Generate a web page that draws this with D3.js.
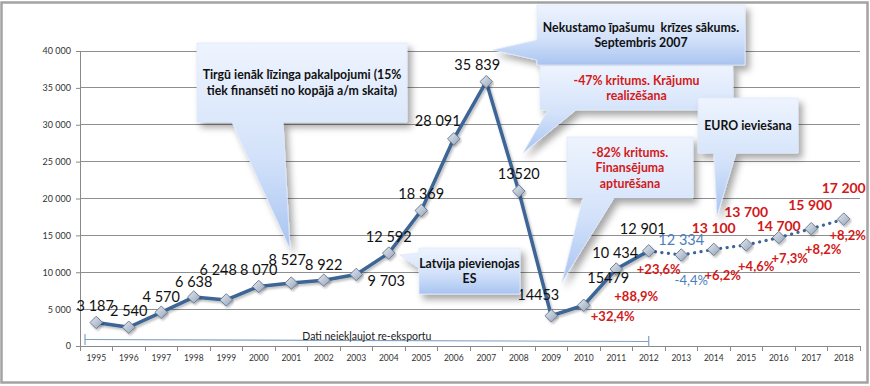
<!DOCTYPE html>
<html><head><meta charset="utf-8">
<script src="https://cdn.jsdelivr.net/npm/d3@7/dist/d3.min.js"></script>
<style>html,body{margin:0;padding:0;background:#fff;}svg{display:block;}</style>
</head><body><svg id="c" width="870" height="386"></svg>
<script>
// ---- data ----
const years = ["1995","1996","1997","1998","1999","2000","2001","2002","2003","2004","2005","2006","2007","2008","2009","2010","2011","2012","2013","2014","2015","2016","2017","2018"];
const values = [3187,2540,4570,6638,6248,8070,8527,8922,9703,12592,18369,28091,35839,21000,4100,5520,10434,12901,12334,13100,13700,14700,15900,17200];
const valueLabels = ["3 187","2 540","4 570","6 638","6 248","8 070","8 527","8 922","9 703","12 592","18 369","28 091","35 839","13520","14453","","10 434","12 901","12 334","13 100","13 700","14 700","15 900","17 200"];
const extraLabels = ["","","","","","","","","","","","","","","","","15479","","","","","","",""];
const changeLabels = ["","","","","","","","","","","","","","","","+32,4%","+88,9%","+23,6%","-4,4%","+6,2%","+4,6%","+7,3%","+8,2%","+8,2%"];
const yTicks = [0,5000,10000,15000,20000,25000,30000,35000,40000];
const forecastFrom = "2012";
const noteText = "Dati neiekļaujot re-eksportu";
const callouts = [
  {lines:["Tirgū ienāk līzinga pakalpojumi (15%","tiek finansēti no kopājā a/m skaita)"], color:"#111"},
  {lines:["Nekustamo īpašumu  krīzes sākums.","Septembris 2007"], color:"#111"},
  {lines:["-47% kritums. Krājumu","realizēšana"], color:"#d21a1a"},
  {lines:["-82% kritums.","Finansējuma","apturēšana"], color:"#d21a1a"},
  {lines:["EURO ieviešana"], color:"#111"},
  {lines:["Latvija pievienojas","ES"], color:"#111"}
];

// ---- layout (not data) ----
const L = 80, R = 860, T = 51, B = 346;
const red = "#d21a1a", blue = "#4a7ebb", lineCol = "#3d6596";
// label offsets relative to point: [dx, dy]
const valOff = [[-1,-17],[0,-17],[0,-16],[0,-15.5],[-8,-30.5],[0,-16.5],[-4,-24],[0,-16],[30,6],[0,-16.5],[0,-17],[-16,-18],[-9,-17],[0,-18],[-13,-21.5],[0,0],[-1,-17],[-6,-22],[0,-16],[0,-22],[0,-33],[0,-12],[-1,-24],[0,-31.5]];
const extraOff = {"2011":[-8,8]};
const chgOff = [[0,0],[0,0],[0,0],[0,0],[0,0],[0,0],[0,0],[0,0],[0,0],[0,0],[0,0],[0,0],[0,0],[0,0],[0,0],[29,11],[20,27],[10,18],[10,25],[9,25.5],[10,21],[11,20],[12,20.6],[4,16]];
// callout geometry: rect x,y,w,h ; side; wedge base a,b ; tip
const cgeo = [
  {x:197,y:43,w:210,h:79,side:"bottom",a:232,b:283,tip:[290,249]},
  {x:537,y:5,w:208,h:60,side:"left",a:40,b:60,tip:[493,50]},
  {x:540,y:66,w:193,h:44,side:"bottom",a:548,b:576,tip:[523,153]},
  {x:567,y:137,w:126,h:61,side:"bottom",a:583,b:614,tip:[562,282]},
  {x:698,y:98,w:100,h:55,side:"bottom",a:714,b:736,tip:[717,216]},
  {x:419,y:248,w:101,h:46,side:"left",a:253,b:268,tip:[400,255]}
];

const svg = d3.select("#c");
const defs = svg.append("defs");
const g1 = defs.append("linearGradient").attr("id","cg").attr("x1",0).attr("y1",0).attr("x2",0).attr("y2",1);
g1.append("stop").attr("offset","0%").attr("stop-color","#eef4fe");
g1.append("stop").attr("offset","55%").attr("stop-color","#d3e2fa");
g1.append("stop").attr("offset","100%").attr("stop-color","#a9c4f1");
const g2 = defs.append("linearGradient").attr("id","mg").attr("x1",0).attr("y1",0).attr("x2",1).attr("y2",1);
g2.append("stop").attr("offset","0%").attr("stop-color","#e6eaf0");
g2.append("stop").attr("offset","100%").attr("stop-color","#93a3b9");
const f = defs.append("filter").attr("id","sh").attr("x","-20%").attr("y","-20%").attr("width","150%").attr("height","150%");
f.append("feDropShadow").attr("dx",4).attr("dy",5).attr("stdDeviation",3.5).attr("flood-color","#000").attr("flood-opacity",0.35);
const f2 = defs.append("filter").attr("id","lsh").attr("x","-10%").attr("y","-10%").attr("width","120%").attr("height","130%");
f2.append("feDropShadow").attr("dx",1.5).attr("dy",2).attr("stdDeviation",1.2).attr("flood-color","#000").attr("flood-opacity",0.25);

const x = d3.scaleBand().domain(years).range([L,R]).padding(0);
const y = d3.scaleLinear().domain([0,40000]).range([B,T]);
const cx = d => x(d) + x.bandwidth()/2;

// outer border
svg.append("rect").attr("x",1.5).attr("y",2.5).attr("width",866).attr("height",380)
  .attr("fill","#fff").attr("stroke","#a3a3a3").attr("stroke-width",2.5);

// gridlines
svg.append("g").selectAll("line").data(yTicks.filter(t=>t>0)).join("line")
  .attr("x1",L).attr("x2",R).attr("y1",d=>y(d)).attr("y2",d=>y(d))
  .attr("stroke","#8f8f8f").attr("stroke-width",1).attr("shape-rendering","crispEdges");

// y axis
const yAxis = svg.append("g").attr("transform",`translate(${L},0)`)
  .call(d3.axisLeft(y).tickValues(yTicks).tickSize(4).tickPadding(5)
    .tickFormat(d => d3.format(",")(d).replace(/,/g," ")));
yAxis.select(".domain").attr("stroke","#8a8a8a");
yAxis.selectAll(".tick line").attr("stroke","#8a8a8a");
yAxis.selectAll("text").attr("font-family","Lato, sans-serif").attr("font-size",9).attr("fill","#333");

// x axis
const xAxis = svg.append("g").attr("transform",`translate(0,${B})`)
  .call(d3.axisBottom(x).tickSize(0).tickPadding(9));
xAxis.select(".domain").attr("stroke","#8a8a8a");
xAxis.selectAll("text").attr("font-family","Lato, sans-serif").attr("font-size",8.5).attr("fill","#333");
svg.append("g").selectAll("line").data(years.concat(["end"])).join("line")
  .attr("x1",(d,i)=>L+i*x.bandwidth()).attr("x2",(d,i)=>L+i*x.bandwidth())
  .attr("y1",B).attr("y2",B+5).attr("stroke","#8a8a8a").attr("shape-rendering","crispEdges");

// note bracket
const bx1 = L+5, bx2 = cx(forecastFrom);
const br = svg.append("g").attr("stroke","#7f9fc4").attr("stroke-width",1.2).attr("fill","none");
br.append("line").attr("x1",bx1).attr("x2",bx2).attr("y1",339.5).attr("y2",341.5);
br.append("line").attr("x1",bx1).attr("x2",bx1).attr("y1",334).attr("y2",345);
br.append("line").attr("x1",bx2).attr("x2",bx2).attr("y1",336).attr("y2",347);
svg.append("text").attr("x",(bx1+bx2)/2).attr("y",336).attr("text-anchor","middle")
  .attr("dominant-baseline","central").attr("font-family","Lato, sans-serif").attr("font-size",10.5)
  .attr("fill","#1a1a1a").text(noteText);

// line
const pts = years.map((d,i)=>({year:d, v:values[i], i}));
const fi = years.indexOf(forecastFrom);
const line = d3.line().x(d=>cx(d.year)).y(d=>y(d.v));
svg.append("path").datum(pts.slice(0,fi+1)).attr("d",line).attr("fill","none")
  .attr("stroke",lineCol).attr("stroke-width",3.5).attr("stroke-linejoin","round").attr("filter","url(#lsh)");
svg.append("path").datum(pts.slice(fi)).attr("d",line).attr("fill","none")
  .attr("stroke",lineCol).attr("stroke-width",3.2).attr("stroke-dasharray","0.1 6.5").attr("stroke-linecap","round");

// markers
svg.append("g").selectAll("path").data(pts).join("path")
  .attr("d",d3.symbol().type(d3.symbolDiamond2).size(100))
  .attr("transform",d=>`translate(${cx(d.year)},${y(d.v)})`)
  .attr("fill","url(#mg)").attr("stroke","#6c7f99").attr("stroke-width",1).attr("filter","url(#lsh)");

// labels
const lab = svg.append("g").attr("font-family","Lato, sans-serif").attr("dominant-baseline","central").attr("text-anchor","middle");
pts.forEach(p=>{
  const px = cx(p.year), py = y(p.v);
  const t = valueLabels[p.i];
  if (t) {
    let col = "#111", w = 400, fs = 14.5;
    if (p.i > fi + 1) { col = red; w = 700; fs = 14; }
    else if (p.i === fi + 1) { col = blue; fs = 14.5; }
    lab.append("text").attr("x",px+valOff[p.i][0]).attr("y",py+valOff[p.i][1])
      .attr("fill",col).attr("font-weight",w).attr("font-size",fs).text(t);
  }
  if (extraLabels[p.i]) {
    const o = extraOff[p.year];
    lab.append("text").attr("x",px+o[0]).attr("y",py+o[1]).attr("fill","#111").attr("font-size",14.5).text(extraLabels[p.i]);
  }
  const c = changeLabels[p.i];
  if (c) {
    const neg = c.startsWith("-");
    lab.append("text").attr("x",px+chgOff[p.i][0]).attr("y",py+chgOff[p.i][1])
      .attr("fill",neg?blue:red).attr("font-weight",neg?400:700).attr("font-size",13).text(c);
  }
});

// callouts
function cpath(g){
  const {x:X,y:Y,w:W,h:H,side,a,b,tip} = g;
  const p = d3.path();
  p.moveTo(X,Y);
  p.lineTo(X+W,Y);
  p.lineTo(X+W,Y+H);
  if (side==="bottom"){ p.lineTo(b,Y+H); p.lineTo(tip[0],tip[1]); p.lineTo(a,Y+H); }
  p.lineTo(X,Y+H);
  if (side==="left"){ p.lineTo(X,b); p.lineTo(tip[0],tip[1]); p.lineTo(X,a); }
  p.closePath();
  return p.toString();
}
const cg = svg.append("g");
callouts.forEach((c,i)=>{
  const g = cgeo[i];
  cg.append("path").attr("d",cpath(g)).attr("fill","url(#cg)").attr("stroke","#dfe9fb").attr("stroke-width",0.8).attr("filter","url(#sh)");
  const n = c.lines.length, lh = 15.5;
  const mid = g.y + g.h/2;
  c.lines.forEach((ln,k)=>{
    cg.append("text").attr("x",g.x+g.w/2).attr("y",mid + (k-(n-1)/2)*lh)
      .attr("text-anchor","middle").attr("dominant-baseline","central")
      .attr("font-family","Lato, sans-serif").attr("font-weight",700).attr("font-size",12.3)
      .attr("fill",c.color).style("white-space","pre").text(ln);
  });
});
</script></body></html>
